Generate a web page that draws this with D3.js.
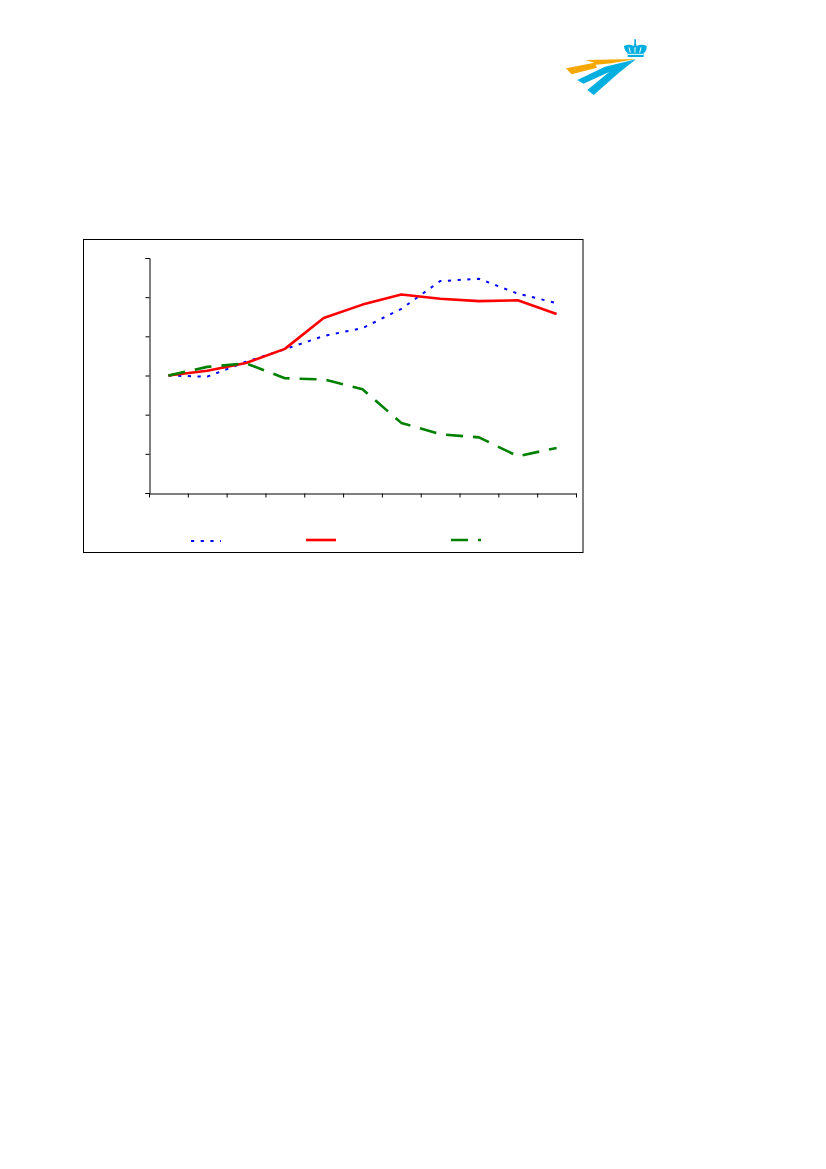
<!DOCTYPE html>
<html>
<head>
<meta charset="utf-8">
<script src="https://d3js.org/d3.v7.min.js"></script>
<style>html,body{margin:0;padding:0;background:#fff}svg{display:block}</style>
</head>
<body>
<svg id="c" width="826" height="1169"></svg>
<script>
const categories = ["1","2","3","4","5","6","7","8","9","10","11"];
const tickValues = [70,80,90,100,110,120,130];
const blueValues = [100,99.7,103.5,106.7,110.1,112.1,117,124.1,124.7,120.9,118.5];
const redValues = [100,101.2,103.2,106.8,114.7,118.1,120.7,119.6,119,119.2,115.7];
const greenValues = [100,102.2,103.1,99.3,99,96.5,87.9,85,84.2,79.4,81.5];

const svg = d3.select("#c");
const x = d3.scaleBand().domain(categories).range([149.5,576.5]);
const y = d3.scaleLinear().domain([70,130]).range([493,258]);

// Logo
const logo = svg.append("g").attr("transform","translate(555,30) scale(0.3333)");
logo.append("path").attr("fill","#f7a800").attr("d","M33,115 L118,98 L92,90 L243,87 L170,100 L122,104 L126,113 L50,133 Z");
logo.append("path").attr("fill","#00aee0").attr("d","M67,150 L150,110 L243,88 L168,124 L85,161 Z");
logo.append("path").attr("fill","#00aee0").attr("d","M97,180 L170,120 L243,88 L192,128 L116,195 Z");
logo.append("path").attr("fill","#00aee0").attr("d","M207,48 Q222,40 236,48 L238,40 L238,28 L243,28 L243,40 L245,48 Q260,40 275,48 Q276,62 266,70 L266,81 L218,81 L218,70 Q208,62 207,48 Z");
logo.append("path").attr("fill","none").attr("stroke","#fff").attr("stroke-width",3).attr("d","M222,52 L226,68 M240,52 L240,68 M258,52 L254,68 M218,73 L266,73");

// Frame
svg.append("rect").attr("x",83.5).attr("y",239.5).attr("width",499.5).attr("height",313)
  .attr("fill","#fff").attr("stroke","#000").attr("stroke-width",1);

// Axes
const yAxis = d3.axisLeft(y).tickValues(tickValues).tickSize(4).tickFormat("");
const gy = svg.append("g").attr("transform","translate(149.5,0)").call(yAxis);
const gx = svg.append("g").attr("transform","translate(0,493.5)")
  .call(d3.axisBottom(x).tickSize(0).tickFormat(""));
gx.selectAll(".tick").remove();
gx.selectAll("line.cat").data(categories.concat(["end"])).join("line").attr("class","cat")
  .attr("x1",(d,i)=> i<categories.length ? x(d) : x.range()[1])
  .attr("x2",(d,i)=> i<categories.length ? x(d) : x.range()[1])
  .attr("y1",0).attr("y2",4).attr("stroke","#000");
svg.selectAll(".domain").attr("stroke","#000").attr("stroke-width",1);

const line = d3.line().x((d,i)=>x(categories[i])+x.bandwidth()/2-0.5).y(d=>y(d));
const series = [
  {v:blueValues, c:"#0000ff", w:2, dash:"3.2 6.5", lx:[191,221], ly:541},
  {v:redValues, c:"#ff0000", w:2.6, dash:null, lx:[306,336], ly:540},
  {v:greenValues, c:"#008000", w:2.6, dash:"17 10", lx:[451,481], ly:540}
];
series.forEach(s=>{
  svg.append("path").datum(s.v).attr("d",line).attr("fill","none")
    .attr("stroke",s.c).attr("stroke-width",s.w).attr("stroke-dasharray",s.dash)
    .attr("stroke-linejoin","round");
  svg.append("line").attr("x1",s.lx[0]).attr("x2",s.lx[1]).attr("y1",s.ly).attr("y2",s.ly)
    .attr("stroke",s.c).attr("stroke-width",s.w).attr("stroke-dasharray",s.dash);
});
</script>
</body>
</html>
